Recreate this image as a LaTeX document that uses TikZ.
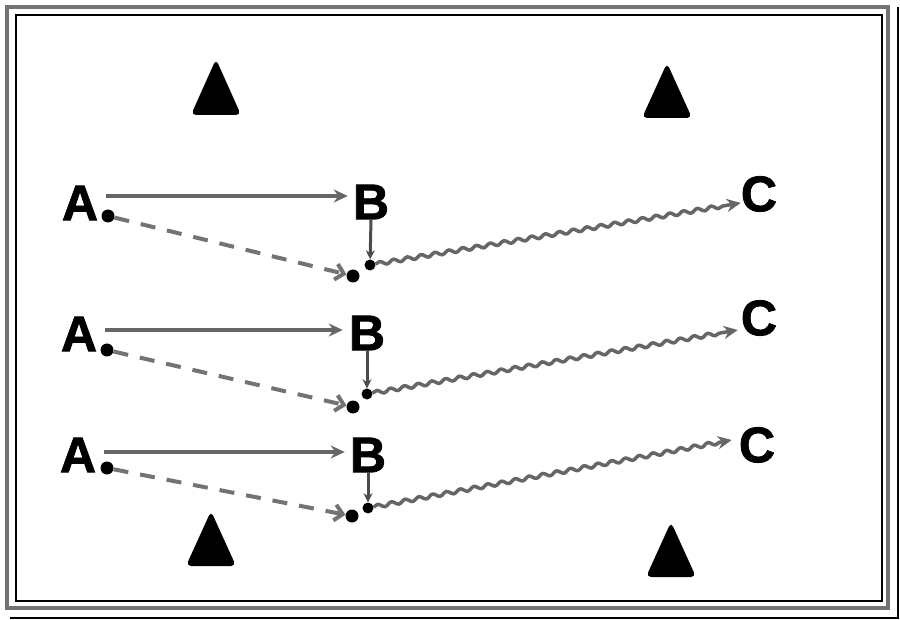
\documentclass[tikz,border=0pt]{standalone}
\usepackage{fontspec}
\setmainfont{Liberation Sans}
\newfontfamily\heavyfont{Liberation Sans}[BoldFeatures={FakeBold=1.6}]
\usetikzlibrary{arrows.meta,decorations.pathmorphing}
\begin{document}
\begin{tikzpicture}[x=1pt,y=-1pt,
 letter/.style={inner sep=0pt, font=\heavyfont\fontsize{50}{50}\selectfont\bfseries},
 dot/.style={circle, fill=black, inner sep=0pt, minimum size=#1},
 dot/.default=13pt,
 pass/.style={draw=black!60, line width=4pt, -{Stealth[length=14pt,width=13pt]}},
 bpass/.style={draw=black!70, line width=3pt, -{Stealth[length=9pt,width=9pt]}},
 run/.style={draw=black!55, line width=4pt, dash pattern=on 15pt off 12pt, -{Straight Barb[length=8pt,width=16pt]}},
 dribble/.style={draw=black!60, line width=3.5pt, decorate, decoration={snake, amplitude=1.8pt, segment length=14pt, post length=12pt}, -{Stealth[length=14pt,width=13pt]}},
 cone/.style={fill=black, rounded corners=5pt}]
\useasboundingbox (0,0) rectangle (900,620);
\fill[white] (0,0) rectangle (900,620);
% frame
\draw[black!55, line width=3.5pt] (7,7) rectangle (888,608);
\draw[black, line width=1.3pt] (16,15) rectangle (882,601);
\draw[black, line width=1.6pt] (10,618) -- (898,618) -- (898,7);
% cones
\fill[cone] (191,115) -- (216,59) -- (241,115) -- cycle;
\fill[cone] (642,118) -- (667,63) -- (692,118) -- cycle;
\fill[cone] (186,566) -- (211,511) -- (236,566) -- cycle;
\fill[cone] (646,577) -- (671,522) -- (696,577) -- cycle;
% row 1
\node[letter] (A1) at (80,203) {A};
\node[letter] (B1) at (371,202) {B};
\node[letter] (C1) at (759,194) {C};
\node[dot] (a1) at (108,216) {};
\node[dot=11pt] (b1) at (370,265) {};
\node[dot=13pt] (r1) at (353,276) {};
\draw[pass] ([xshift=8pt,yshift=7pt]A1.east) -- ([xshift=-5pt,yshift=6pt]B1.west);
\draw[bpass] (B1.south) -- (b1);
\draw[run] (a1) -- (r1);
\draw[dribble] (b1) -- ([yshift=-9pt]C1.west);
% row 2
\node[letter] (A2) at (79,334) {A};
\node[letter] (B2) at (367,333) {B};
\node[letter] (C2) at (759,318) {C};
\node[dot] (a2) at (107,350) {};
\node[dot=11pt] (b2) at (367,394) {};
\node[dot=13pt] (r2) at (353,407) {};
\draw[pass] ([xshift=8pt,yshift=4pt]A2.east) -- ([xshift=-6pt,yshift=3pt]B2.west);
\draw[bpass] (B2.south) -- (b2);
\draw[run] (a2) -- (r2);
\draw[dribble] (b2) -- ([xshift=-3pt,yshift=-12pt]C2.west);
% row 3
\node[letter] (A3) at (78,455) {A};
\node[letter] (B3) at (368,455) {B};
\node[letter] (C3) at (757,445) {C};
\node[dot] (a3) at (107,468) {};
\node[dot=11pt] (b3) at (368,508) {};
\node[dot=13pt] (r3) at (352,516) {};
\draw[pass] ([xshift=8pt,yshift=3pt]A3.east) -- ([xshift=-5pt,yshift=3pt]B3.west);
\draw[bpass] (B3.south) -- (b3);
\draw[run] (a3) -- (r3);
\draw[dribble] (b3) -- ([xshift=-7pt,yshift=5pt]C3.west);
\end{tikzpicture}
\end{document}
